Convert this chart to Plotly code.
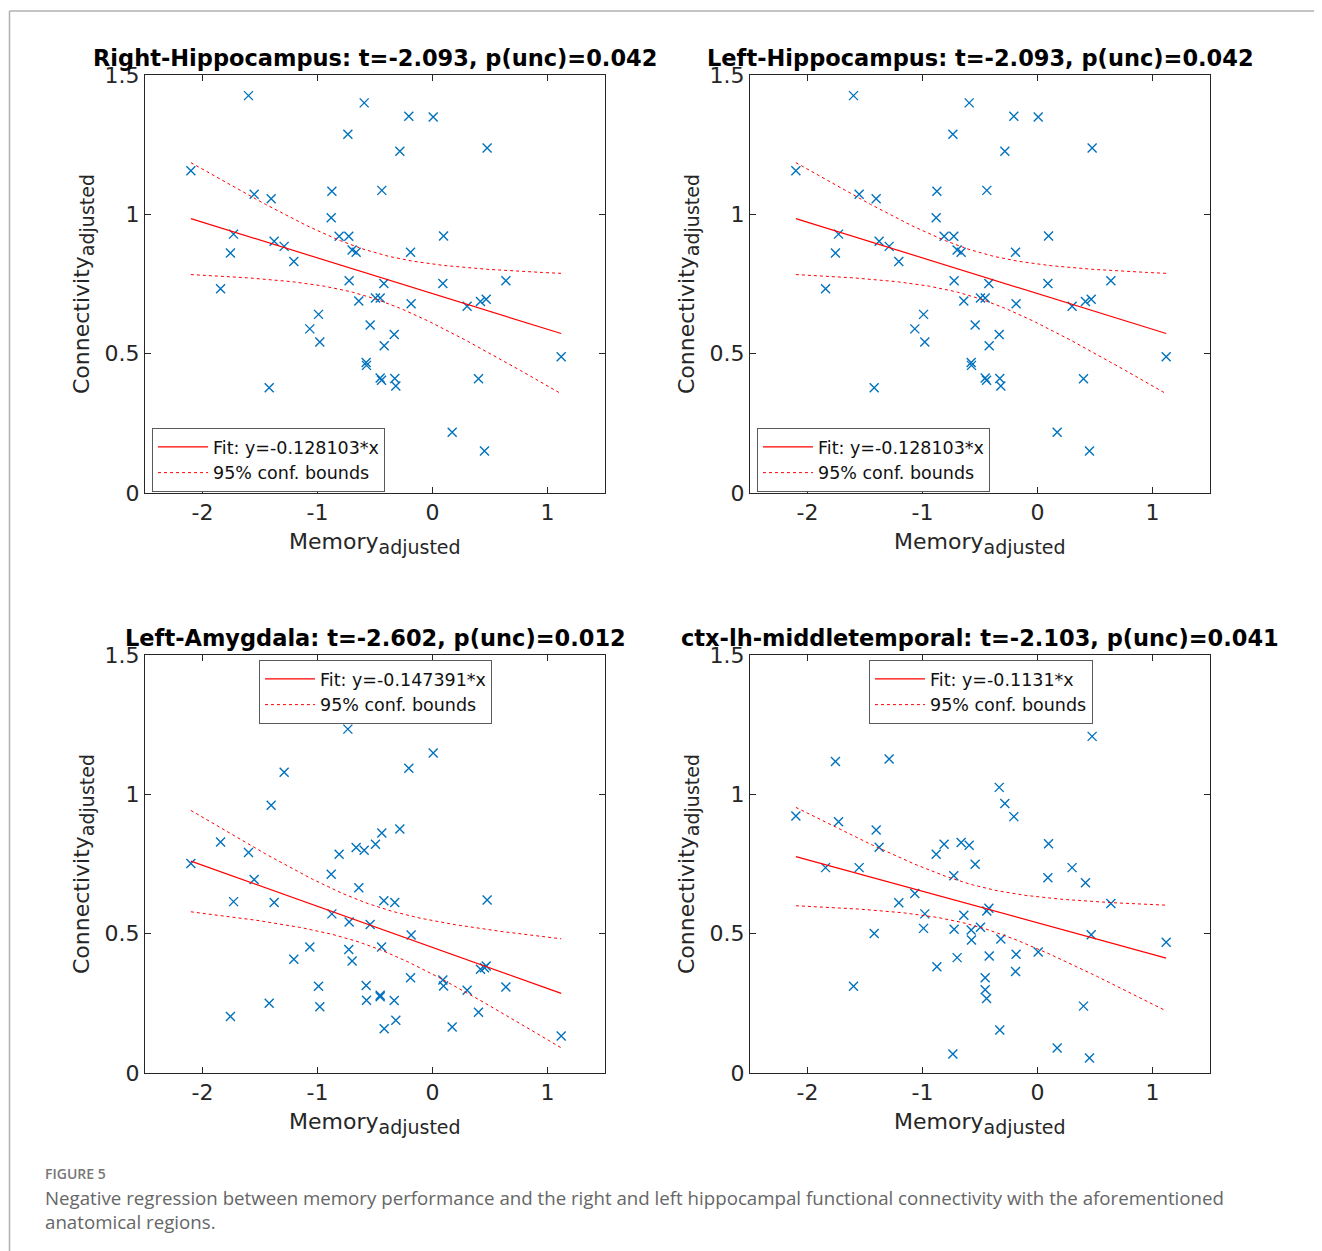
import numpy as np
import plotly.graph_objects as go

# ---------------- data ----------------
memory = [-1.600, -0.594, -0.206, 0.006, -0.736, -0.284, 0.475, -2.101, -1.551, -1.403,
          -0.875, -0.441, -0.881, -1.730, -0.812, -0.728, 0.096, -1.377, -1.290, -1.757,
          -0.699, -0.664, -0.191, -1.206, -1.843, -0.725, -0.423, 0.090, 0.638, -0.641,
          -0.496, -0.455, -0.186, 0.301, 0.417, 0.467, -0.991, -1.067, -0.542, -0.980,
          -0.333, -0.420, -0.577, -0.574, -0.455, -0.443, -0.328, -0.319, 1.119, -1.420,
          0.400, 0.171, 0.452]

conn_right_hippocampus = [1.426, 1.400, 1.352, 1.349, 1.287, 1.226, 1.238, 1.156, 1.072, 1.056,
                          1.083, 1.086, 0.988, 0.929, 0.921, 0.921, 0.922, 0.903, 0.885, 0.861,
                          0.872, 0.864, 0.864, 0.831, 0.733, 0.762, 0.752, 0.752, 0.762, 0.689,
                          0.700, 0.700, 0.679, 0.670, 0.687, 0.695, 0.641, 0.589, 0.603, 0.542,
                          0.569, 0.528, 0.468, 0.458, 0.413, 0.405, 0.411, 0.384, 0.489, 0.378,
                          0.410, 0.218, 0.151]

conn_left_hippocampus = [1.426, 1.400, 1.352, 1.349, 1.287, 1.226, 1.238, 1.156, 1.072, 1.056,
                         1.083, 1.086, 0.988, 0.929, 0.921, 0.921, 0.922, 0.903, 0.885, 0.861,
                         0.872, 0.864, 0.864, 0.831, 0.733, 0.762, 0.752, 0.752, 0.762, 0.689,
                         0.700, 0.700, 0.679, 0.670, 0.687, 0.695, 0.641, 0.589, 0.603, 0.542,
                         0.569, 0.528, 0.468, 0.458, 0.413, 0.405, 0.411, 0.384, 0.489, 0.378,
                         0.410, 0.218, 0.151]

conn_left_amygdala = [0.791, 0.799, 1.094, 1.148, 1.234, 0.876, 0.621, 0.752, 0.694, 0.961,
                      0.571, 0.861, 0.713, 0.615, 0.785, 0.443, 0.312, 0.612, 1.079, 0.203,
                      0.402, 0.809, 0.342, 0.408, 0.829, 0.542, 0.618, 0.334, 0.309, 0.665,
                      0.821, 0.279, 0.495, 0.297, 0.372, 0.384, 0.311, 0.452, 0.533, 0.238,
                      0.260, 0.159, 0.314, 0.261, 0.274, 0.452, 0.612, 0.189, 0.133, 0.250,
                      0.218, 0.165, 0.378]

conn_ctx_middletemporal = [0.311, 0.817, 0.920, 0.434, 0.068, 0.967, 1.208, 0.922, 0.737, 0.872,
                           0.381, 0.581, 0.785, 0.902, 0.821, 0.708, 0.823, 0.810, 1.127, 1.118,
                           0.414, 0.827, 0.364, 0.611, 0.737, 0.516, 0.591, 0.701, 0.608, 0.566,
                           0.523, 0.342, 0.426, 0.737, 0.683, 0.496, 0.519, 0.644, 0.749, 0.571,
                           1.025, 0.420, 0.513, 0.477, 0.299, 0.267, 0.154, 0.481, 0.469, 0.501,
                           0.240, 0.090, 0.054]

panel_titles = ["Right-Hippocampus: t=-2.093, p(unc)=0.042",
                "Left-Hippocampus: t=-2.093, p(unc)=0.042",
                "Left-Amygdala: t=-2.602, p(unc)=0.012",
                "ctx-lh-middletemporal: t=-2.103, p(unc)=0.041"]
fit_slopes = [-0.128103, -0.128103, -0.147391, -0.1131]
fit_labels = ["Fit: y=-0.128103*x", "Fit: y=-0.128103*x",
              "Fit: y=-0.147391*x", "Fit: y=-0.1131*x"]
bounds_label = "95% conf. bounds"
x_label_main, x_label_sub = "Memory", "adjusted"
y_label_main, y_label_sub = "Connectivity", "adjusted"
x_tick_vals = [-2, -1, 0, 1]
x_tick_text = ["-2", "-1", "0", "1"]
y_tick_vals = [0, 0.5, 1, 1.5]
y_tick_text = ["0", "0.5", "1", "1.5"]
caption_head = "FIGURE 5"
caption_line1 = ("Negative regression between memory performance and the right and left "
                 "hippocampal functional connectivity with the aforementioned")
caption_line2 = "anatomical regions."
T_CRIT = 2.0076  # t(0.975, df=51)

# ---------------- layout geometry ----------------
OFF = 8  # default page margin around the plot
W, H = 1322 - OFF, 1251 - OFF
panels_px = [  # (left, right, top, bottom) in window pixels
    (145, 605, 75, 493),
    (750, 1210, 75, 493),
    (145, 605, 655, 1073),
    (750, 1210, 655, 1073),
]
legend_pos = [  # (x, y, xanchor) in window pixels
    (152, 428, "left"),
    (757, 428, "left"),
    (375.5, 660, "center"),
    (981, 660, "center"),
]


def px(x):
    return (x - OFF) / W


def py(y):
    return 1 - (y - OFF) / H


series = [conn_right_hippocampus, conn_left_hippocampus,
          conn_left_amygdala, conn_ctx_middletemporal]

BLUE = "#0072BD"
RED = "#FF0000"
AX = "#262626"
FONT = "DejaVu Sans"

fig = go.Figure()
annotations = []
xm = np.array(memory)


def label_html(main, sub, size_main, size_sub):
    return ("<span style='font-size:%dpx'>%s</span><sub><span style='font-size:%dpx'>%s</span></sub>"
            % (size_main, main, size_sub, sub))


for i, ys in enumerate(series):
    yv = np.array(ys)
    n = len(xm)
    slope = fit_slopes[i]
    intercept = yv.mean() - slope * xm.mean()
    resid = yv - (intercept + slope * xm)
    s = np.sqrt(np.sum(resid ** 2) / (n - 2))
    sxx = np.sum((xm - xm.mean()) ** 2)
    xf = np.linspace(xm.min(), xm.max(), 120)
    yf = intercept + slope * xf
    half = T_CRIT * s * np.sqrt(1.0 / n + (xf - xm.mean()) ** 2 / sxx)

    k = "" if i == 0 else str(i + 1)
    xa, ya = "x" + k, "y" + k
    leg = "legend" + k

    fig.add_trace(go.Scatter(x=xm, y=yv, mode="markers", xaxis=xa, yaxis=ya,
                             marker=dict(symbol="x-thin", size=9, color=BLUE,
                                         line=dict(width=1.4, color=BLUE)),
                             showlegend=False, hoverinfo="x+y"))
    fig.add_trace(go.Scatter(x=xf, y=yf, mode="lines", xaxis=xa, yaxis=ya,
                             line=dict(color=RED, width=1.2), name=fit_labels[i],
                             legend=leg, showlegend=True))
    fig.add_trace(go.Scatter(x=xf, y=yf + half, mode="lines", xaxis=xa, yaxis=ya,
                             line=dict(color=RED, width=1, dash="dot"), name=bounds_label,
                             legend=leg, legendgroup="b" + k, showlegend=True))
    fig.add_trace(go.Scatter(x=xf, y=yf - half, mode="lines", xaxis=xa, yaxis=ya,
                             line=dict(color=RED, width=1, dash="dot"), name=bounds_label,
                             legend=leg, legendgroup="b" + k, showlegend=False))

    l, r, t, b = panels_px[i]
    axis_common = dict(showline=True, linecolor=AX, linewidth=1, mirror="allticks",
                       ticks="inside", ticklen=6, tickwidth=1, tickcolor=AX,
                       showgrid=False, zeroline=False, automargin=False,
                       tickfont=dict(family=FONT, size=22, color=AX))
    fig.layout["xaxis" + k] = dict(domain=[px(l), px(r)], range=[-2.5, 1.5],
                                   anchor=ya, tickvals=x_tick_vals, ticktext=x_tick_text,
                                   **axis_common)
    fig.layout["yaxis" + k] = dict(domain=[py(b), py(t)], range=[0, 1.5],
                                   anchor=xa, tickvals=y_tick_vals, ticktext=y_tick_text,
                                   **axis_common)

    lx, ly, lanchor = legend_pos[i]
    fig.layout[leg] = dict(x=px(lx), y=py(ly), xanchor=lanchor, yanchor="top",
                           xref="paper", yref="paper",
                           bgcolor="white", bordercolor="#5a5a5a", borderwidth=1,
                           font=dict(family=FONT, size=17.5, color="#111"),
                           itemwidth=50, tracegroupgap=0)

    cx = (l + r) / 2
    annotations.append(dict(text="<b>" + panel_titles[i] + "</b>", x=px(cx), y=py(t - 17),
                            xref="paper", yref="paper", showarrow=False,
                            xanchor="center", yanchor="middle",
                            font=dict(family=FONT, size=22.5, color="black")))
    annotations.append(dict(text=label_html(x_label_main, x_label_sub, 22, 19),
                            x=px(cx), y=py(b + 50),
                            xref="paper", yref="paper", showarrow=False,
                            xanchor="center", yanchor="middle",
                            font=dict(family=FONT, size=22, color=AX)))
    annotations.append(dict(text=label_html(y_label_main, y_label_sub, 22, 19),
                            x=px(l - 62), y=py((t + b) / 2),
                            xref="paper", yref="paper", showarrow=False, textangle=-90,
                            xanchor="center", yanchor="middle",
                            font=dict(family=FONT, size=22, color=AX)))

annotations.append(dict(text=caption_head, x=px(43), y=py(1173),
                        xref="paper", yref="paper", showarrow=False,
                        xanchor="left", yanchor="middle",
                        font=dict(family="Open Sans", size=14, weight=600, color="#777777")))
annotations.append(dict(text=caption_line1, x=px(43), y=py(1197),
                        xref="paper", yref="paper", showarrow=False,
                        xanchor="left", yanchor="middle",
                        font=dict(family="Open Sans", size=18.7, color="#666666")))
annotations.append(dict(text=caption_line2, x=px(43), y=py(1221),
                        xref="paper", yref="paper", showarrow=False,
                        xanchor="left", yanchor="middle",
                        font=dict(family="Open Sans", size=18.7, color="#666666")))

shapes = [
    dict(type="line", xref="paper", yref="paper", x0=px(9.5), x1=1, y0=py(11), y1=py(11),
         line=dict(color="#b0b0b0", width=1.5)),
    dict(type="line", xref="paper", yref="paper", x0=px(9.5), x1=px(9.5), y0=py(11), y1=0,
         line=dict(color="#b0b0b0", width=1.5)),
]

fig.update_layout(width=W, height=H, margin=dict(l=0, r=0, t=0, b=0),
                  paper_bgcolor="white", plot_bgcolor="white",
                  annotations=annotations, shapes=shapes,
                  font=dict(family=FONT))

fig.write_html("out.html")
